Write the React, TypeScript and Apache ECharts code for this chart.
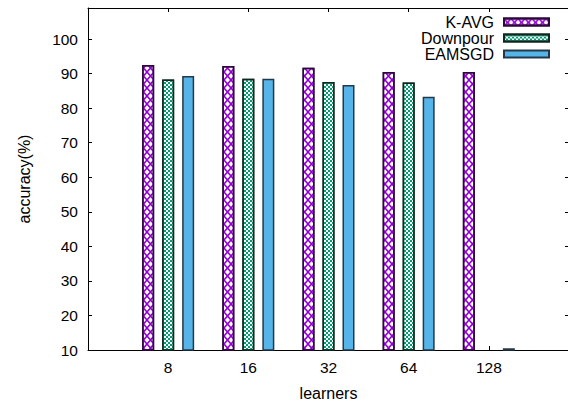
import React, { useEffect, useRef } from "react";
import * as echarts from "echarts";

const learners = ["8", "16", "32", "64", "128"];
const kAvg = [92.5, 92.2, 91.7, 90.5, 90.5];
const downpour = [88.3, 88.5, 87.6, 87.4, 10.2];
const eamsgd = [89.3, 88.5, 86.7, 83.3, 10.5];
const yTicks = [10, 20, 30, 40, 50, 60, 70, 80, 90, 100];

const FONT = "'Liberation Sans', Arial, Helvetica, sans-serif";

// X-shaped tile used to build the cross-hatch fill
const CROSS =
  "path://M0,0L1.5,0L10,8.5L10,10L8.5,10L0,1.5ZM10,0L10,1.5L1.5,10L0,10L0,8.5L8.5,0Z";

export default function App() {
  const ref = useRef<HTMLDivElement>(null);

  useEffect(() => {
    if (!ref.current) return;
    const chart = echarts.init(ref.current, null, { renderer: "svg" });

    const toPairs = (vals: number[]) => vals.map((v, i) => [i, v]);
    const axisLine = { show: true, onZero: false, lineStyle: { color: "#000", width: 1 } };
    const axisTick = { show: true, inside: true, length: 4, lineStyle: { color: "#000" } };

    chart.setOption({
      animation: false,
      backgroundColor: "#fff",
      textStyle: { fontFamily: FONT },
      grid: {
        left: 88,
        right: -1,
        top: 8,
        bottom: 52,
        containLabel: false,
        outerBoundsMode: "none",
      },
      legend: {
        orient: "vertical",
        right: 13,
        top: 9,
        align: "right",
        itemWidth: 45,
        itemHeight: 7,
        itemGap: 0,
        icon: "rect",
        textStyle: {
          fontFamily: FONT,
          fontSize: 16,
          color: "#000",
          lineHeight: 16,
          padding: [0, 5, 0, 0],
        },
        data: ["K-AVG", "Downpour", "EAMSGD"],
      },
      xAxis: [
        {
          type: "value",
          position: "bottom",
          min: -1,
          max: 5,
          interval: 1,
          axisLine,
          axisTick,
          splitLine: { show: false },
          axisLabel: {
            fontFamily: FONT,
            fontSize: 15.5,
            color: "#000",
            margin: 9,
            formatter: (v: number) => (v >= 0 && v < learners.length ? learners[v] : ""),
          },
          name: "learners",
          nameLocation: "middle",
          nameGap: 35,
          nameTextStyle: { fontFamily: FONT, fontSize: 16, color: "#000" },
        },
        {
          type: "value",
          position: "top",
          min: -1,
          max: 5,
          interval: 1,
          axisLine,
          axisTick,
          splitLine: { show: false },
          axisLabel: { show: false },
        },
      ],
      yAxis: [
        {
          type: "value",
          position: "left",
          min: yTicks[0],
          max: 109,
          interval: 10,
          axisLine,
          axisTick,
          splitLine: { show: false },
          axisLabel: {
            fontFamily: FONT,
            fontSize: 15.5,
            color: "#000",
            margin: 10,
            formatter: (v: number) => (yTicks.includes(v) ? String(v) : ""),
          },
          name: "accuracy(%)",
          nameLocation: "middle",
          nameGap: 56,
          nameTextStyle: { fontFamily: FONT, fontSize: 16, color: "#000" },
        },
        {
          type: "value",
          position: "right",
          min: yTicks[0],
          max: 109,
          interval: 10,
          axisLine,
          axisTick,
          splitLine: { show: false },
          axisLabel: { show: false },
        },
      ],
      series: [
        {
          name: "K-AVG",
          type: "bar",
          xAxisIndex: 0,
          yAxisIndex: 0,
          barWidth: 12,
          barGap: "66.67%",
          clip: true,
          data: toPairs(kAvg),
          itemStyle: {
            color: "#ffffff",
            borderColor: "#2a0838",
            borderWidth: 1.5,
            decal: {
              symbol: CROSS,
              symbolSize: 1,
              symbolKeepAspect: false,
              color: "#9400d3",
              backgroundColor: "#ffffff",
              dashArrayX: [[7, 0]],
              dashArrayY: [8, 0],
              rotation: 0,
            },
          },
        },
        {
          name: "Downpour",
          type: "bar",
          xAxisIndex: 0,
          yAxisIndex: 0,
          barWidth: 12,
          barGap: "66.67%",
          clip: true,
          data: toPairs(downpour),
          itemStyle: {
            color: "#ffffff",
            borderColor: "#10271f",
            borderWidth: 1.5,
            decal: {
              symbol: "rect",
              symbolSize: 1,
              color: "#009e73",
              backgroundColor: "#ffffff",
              dashArrayX: [
                [2, 2],
                [0, 2, 2, 0],
              ],
              dashArrayY: [2, 0],
              rotation: 0,
            },
          },
        },
        {
          name: "EAMSGD",
          type: "bar",
          xAxisIndex: 0,
          yAxisIndex: 0,
          barWidth: 12,
          barGap: "66.67%",
          clip: true,
          data: toPairs(eamsgd),
          itemStyle: {
            color: "#56b4e9",
            borderColor: "#23394a",
            borderWidth: 1.5,
          },
        },
      ],
    });

    return () => chart.dispose();
  }, []);

  return (
    <div
      ref={ref}
      style={{ position: "absolute", left: 0, top: 0, width: 568, height: 402 }}
    />
  );
}
